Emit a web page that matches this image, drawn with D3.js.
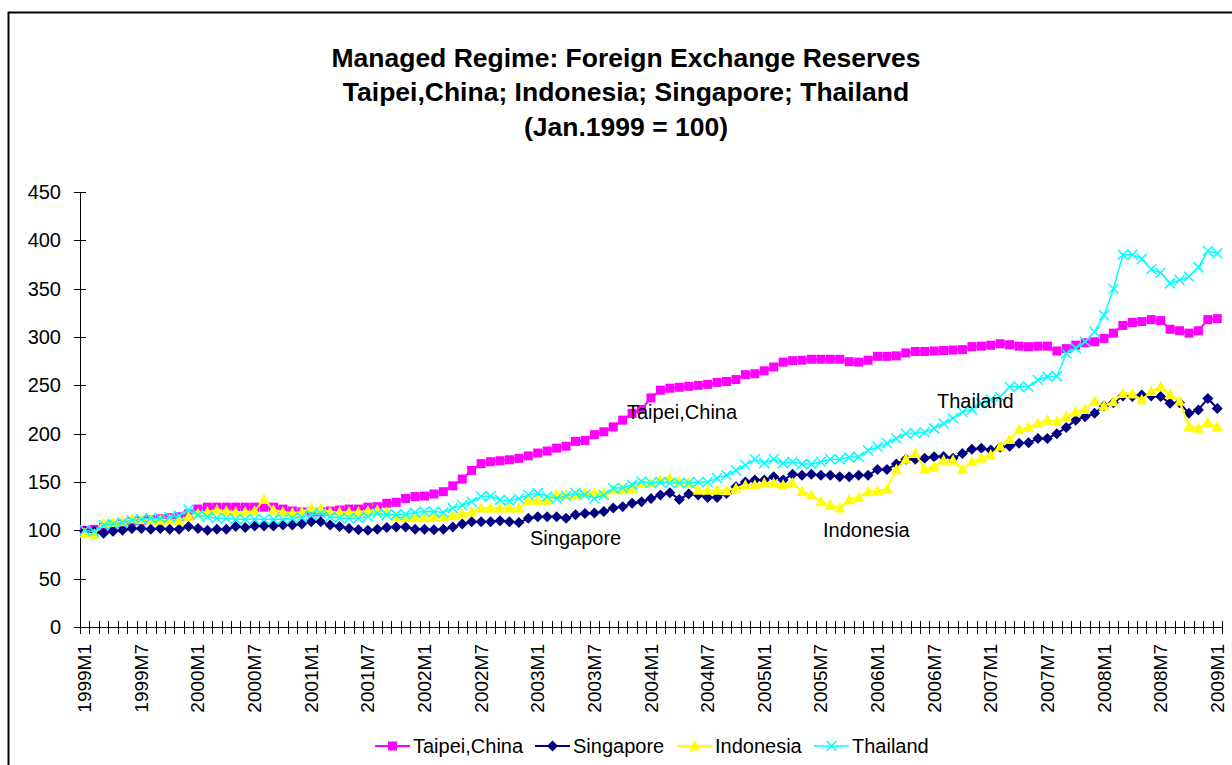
<!DOCTYPE html>
<html>
<head>
<meta charset="utf-8">
<script src="https://cdn.jsdelivr.net/npm/d3@7"></script>
<style>
  body { margin: 0; background: #fff; }
  text { font-family: "Liberation Sans", Arial, sans-serif; fill: #000; }
</style>
</head>
<body>
<div id="chart"></div>
<script>
/*------------------------------------------*/
/*            Data                          */
/*------------------------------------------*/

// monthly categories 1999M1 .. 2009M1
var months = [];
for (var yr = 1999; yr <= 2009; yr++) {
  for (var m = 1; m <= 12; m++) {
    if (yr === 2009 && m > 1) break;
    months.push(yr + "M" + m);
  }
}

var taipei = [100,101,103,105,107,109,110,111,112,113,114,117,122,124,124,124,124,124,124,124,
  124,122,120,119,119,119,120,121,122,122,124,124.5,128,129,133,135,135.5,137.6,140,146,
  153,162,169,171,172,173,174.5,177,180,182,185,187,192,193,199,202,207,214,221,225,
  237,245,247,248,249,250,251,253,254,256,261,262,265,269,274,275.5,276,277,277,277,
  277,274.5,274,276,280,280,280.5,283.5,285,285,285.5,286,286.5,287,290,290.5,291.5,293,292,290.5,
  290,290.5,290.5,285.5,288,291.5,294,295,298.5,304,312,315,316,318,317,308,306.5,304,306.5,318,
  319];

var singapore = [99,99,97,99,100,102,102,101,102,101,101,104,102,100,101,101,104,103,104.5,104.5,
  104.5,105.5,105.5,106.5,109,109,105.5,104,102,100.5,100,101,103,103.5,103.5,101,101,100.5,101,103.5,
  106.5,109,109,109,110,109,108,112.5,114,114,114,112.5,116,117.5,118,119.5,123,124.5,128,129.5,
  133,136.5,139,132,137.5,136.5,134,134,138,145,150,152,152,155.5,152,158,157,158,157,157,
  155.5,155.5,157,157,163,163,168.5,173.5,173.5,174.5,176,176.5,174.5,179.5,184,185,183,186,187,190,
  190.5,195,195,200,206.5,214,217.5,221,228.5,232,239,238.5,240,239,238.5,231.5,232,221,224.5,236.5,
  226];

var indonesia = [97,96,107,108,109,112,111,111,110.5,111,110.5,114,117.5,119,121,120,119,119,120,132,
  121,119,118,119,123,122,119,119,119,119,120,121,119,114,113,113,113,114,114,115,
  117,119,123,123,123,123,123,131,131,131,137,137,136.5,139,139,139,142,142,143,148.5,
  149,152,154,150,149,141.5,141.5,141.5,141,143.5,147,147,149,149,147,149,140,136.5,129.5,126,
  123,131.5,134,140,141,142.5,163,173.5,179.5,163.5,166,172.5,172.5,163,171,174.5,178,187,194,204,
  206.5,210.5,214,212.5,217.5,222.5,225,233.5,228.5,233,241.5,241,235,243.5,248.5,240.5,233.5,207.5,205.5,211.5,
  207];

var thailand = [100,98.5,105.5,106.5,108,110.5,111.5,112.5,112.5,113.5,115,121.5,116,114,112.5,112.5,111.5,111.5,111.5,111.5,
  111.5,111.5,112.5,113.5,116,117.5,114,112.5,112.5,112.5,114,117.5,116,116.5,116.5,118.5,119.5,119.5,118.5,123,
  126,129.5,135,135.5,131.5,130.5,133,136.5,138.5,135,133,135.5,138.5,136.5,133,136.5,143.5,144,147,150.5,
  149,150,149,149,149,150,150,154,157,162,167.5,173.5,169.5,173.5,169.5,171,168.5,168.5,171,173.5,
  173.5,175.5,176,182.5,186.5,190,195,200,200.5,201.5,205.5,210.5,216,222.5,225,231.5,235,238,248.5,248.5,
  248.5,255.5,259,259.5,283,288.5,295,305.5,322.5,350,385,385,381,370,366.5,355.5,359,362.5,372,389,
  386.5];

var yTicks = [0, 50, 100, 150, 200, 250, 300, 350, 400, 450];

var seriesNames = ["Taipei,China", "Singapore", "Indonesia", "Thailand"],
    seriesColors = ["#ff00ff", "#000080", "#ffff00", "#00ffff"],
    seriesMarkers = ["square", "diamond", "triangle", "cross"],
    seriesValues = [taipei, singapore, indonesia, thailand];

/*------------------------------------------*/
/*            Layout                        */
/*------------------------------------------*/

var W = 1232, H = 765;
var plot = { left: 80, right: 1222, top: 192, bottom: 627 };

var svg = d3.select("#chart").append("svg")
    .attr("width", W)
    .attr("height", H);

svg.append("rect")
    .attr("x", 0).attr("y", 0).attr("width", W).attr("height", H)
    .attr("fill", "#fff");

// outer chart border (runs off right/bottom edges)
svg.append("rect")
    .attr("x", 8.5).attr("y", 12.5)
    .attr("width", 1300).attr("height", 900)
    .attr("fill", "none")
    .attr("stroke", "#000")
    .attr("stroke-width", 2);

var x = d3.scaleBand()
    .domain(d3.range(months.length))
    .range([plot.left, plot.right])
    .padding(0);

var y = d3.scaleLinear()
    .domain([0, 450])
    .range([plot.bottom, plot.top]);

function cx(i) { return x(i) + x.bandwidth() / 2; }

/*------------------------------------------*/
/*            Title                         */
/*------------------------------------------*/

var titleLines = ["Managed Regime: Foreign Exchange Reserves",
                  "Taipei,China; Indonesia; Singapore; Thailand",
                  "(Jan.1999 = 100)"];

svg.append("g").selectAll("text")
    .data(titleLines)
    .enter().append("text")
    .attr("x", 626)
    .attr("y", function(d, i) { return 66.5 + i * 34.5; })
    .attr("text-anchor", "middle")
    .attr("font-size", "26.5px")
    .attr("font-weight", "bold")
    .text(function(d) { return d; });

/*------------------------------------------*/
/*            Axes                          */
/*------------------------------------------*/

var yAxis = svg.append("g");

yAxis.append("line")
    .attr("x1", plot.left + 0.5).attr("x2", plot.left + 0.5)
    .attr("y1", plot.top).attr("y2", plot.bottom)
    .attr("stroke", "#000");

yAxis.selectAll("line.tick")
    .data(yTicks)
    .enter().append("line")
    .attr("class", "tick")
    .attr("x1", plot.left - 6).attr("x2", plot.left + 6)
    .attr("y1", function(d) { return Math.round(y(d)) + 0.5; })
    .attr("y2", function(d) { return Math.round(y(d)) + 0.5; })
    .attr("stroke", "#000");

yAxis.selectAll("text")
    .data(yTicks)
    .enter().append("text")
    .attr("x", 61)
    .attr("y", function(d) { return y(d) + 7; })
    .attr("text-anchor", "end")
    .attr("font-size", "20px")
    .text(function(d) { return d; });

var xAxis = svg.append("g");

xAxis.append("line")
    .attr("x1", plot.left).attr("x2", plot.right)
    .attr("y1", plot.bottom + 0.5).attr("y2", plot.bottom + 0.5)
    .attr("stroke", "#000");

xAxis.selectAll("line.tick")
    .data(d3.range(months.length + 1))
    .enter().append("line")
    .attr("class", "tick")
    .attr("x1", function(d) { return Math.round(plot.left + d * x.bandwidth()) + 0.5; })
    .attr("x2", function(d) { return Math.round(plot.left + d * x.bandwidth()) + 0.5; })
    .attr("y1", plot.bottom - 6).attr("y2", plot.bottom + 7)
    .attr("stroke", "#000");

xAxis.selectAll("text")
    .data(d3.range(0, months.length, 6))
    .enter().append("text")
    .attr("transform", function(d) { return "translate(" + (cx(d) + 6.5) + "," + (plot.bottom + 17) + ") rotate(-90)"; })
    .attr("text-anchor", "end")
    .attr("font-size", "19px")
    .text(function(d) { return months[d]; });

/*------------------------------------------*/
/*            Series                        */
/*------------------------------------------*/

function drawMarker(g, type, color, px, py) {
  if (type === "square") {
    g.append("rect")
      .attr("x", px - 4.5).attr("y", py - 4.5)
      .attr("width", 9).attr("height", 9)
      .attr("fill", color);
  } else if (type === "diamond") {
    g.append("path")
      .attr("d", "M" + px + "," + (py - 5.5) + "L" + (px + 5.5) + "," + py +
                 "L" + px + "," + (py + 5.5) + "L" + (px - 5.5) + "," + py + "Z")
      .attr("fill", color);
  } else if (type === "triangle") {
    g.append("path")
      .attr("d", "M" + px + "," + (py - 6) + "L" + (px + 5.5) + "," + (py + 4.5) +
                 "L" + (px - 5.5) + "," + (py + 4.5) + "Z")
      .attr("fill", color);
  } else {
    g.append("path")
      .attr("d", "M" + (px - 5) + "," + (py - 5) + "L" + (px + 5) + "," + (py + 5) +
                 "M" + (px + 5) + "," + (py - 5) + "L" + (px - 5) + "," + (py + 5))
      .attr("stroke", color)
      .attr("stroke-width", 1.5)
      .attr("fill", "none");
  }
}

var line = d3.line()
    .x(function(d, i) { return cx(i); })
    .y(function(d) { return y(d); });

seriesValues.forEach(function(vals, s) {
  var g = svg.append("g");
  g.append("path")
    .datum(vals)
    .attr("d", line)
    .attr("fill", "none")
    .attr("stroke", seriesColors[s])
    .attr("stroke-width", s === 3 ? 1.5 : 2);
  vals.forEach(function(v, i) {
    drawMarker(g, seriesMarkers[s], seriesColors[s], cx(i), y(v));
  });
});

/*------------------------------------------*/
/*            Series labels                 */
/*------------------------------------------*/

var labels = [
  { text: "Taipei,China", x: 627, y: 419 },
  { text: "Thailand", x: 937, y: 408 },
  { text: "Singapore", x: 530, y: 545 },
  { text: "Indonesia", x: 823, y: 537 }
];

svg.append("g").selectAll("text")
    .data(labels)
    .enter().append("text")
    .attr("x", function(d) { return d.x; })
    .attr("y", function(d) { return d.y; })
    .attr("font-size", "20px")
    .text(function(d) { return d.text; });

/*------------------------------------------*/
/*            Legend                        */
/*------------------------------------------*/

var legendX = [375, 535, 677, 814],
    legendY = 746;

seriesNames.forEach(function(name, s) {
  var g = svg.append("g");
  g.append("line")
    .attr("x1", legendX[s]).attr("x2", legendX[s] + 35)
    .attr("y1", legendY).attr("y2", legendY)
    .attr("stroke", seriesColors[s])
    .attr("stroke-width", s === 3 ? 1.5 : 2);
  drawMarker(g, seriesMarkers[s], seriesColors[s], legendX[s] + 17.5, legendY);
  g.append("text")
    .attr("x", legendX[s] + 38)
    .attr("y", legendY + 7)
    .attr("font-size", "20px")
    .text(name);
});
</script>
</body>
</html>
